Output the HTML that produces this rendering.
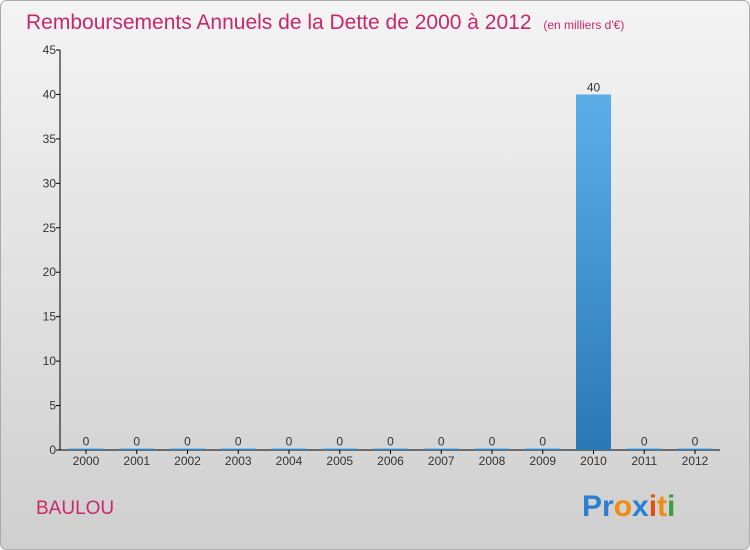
<!DOCTYPE html>
<html><head><meta charset="utf-8"><style>
body{margin:0;width:750px;height:550px;overflow:hidden}
svg{display:block;font-family:"Liberation Sans",sans-serif}
</style></head><body>
<svg width="750" height="550">
<defs>
<linearGradient id="bg" x1="0" y1="0" x2="0" y2="1"><stop offset="0" stop-color="#f4f4f4"/><stop offset="1" stop-color="#cfcfcf"/></linearGradient>
<linearGradient id="bar" x1="0" y1="0" x2="0" y2="1"><stop offset="0" stop-color="#5daee8"/><stop offset="1" stop-color="#2a78b6"/></linearGradient>
</defs>
<rect x="0.5" y="0.5" width="749" height="549" rx="6" fill="url(#bg)" stroke="#aaa"/>
<text x="26" y="29" font-size="21" fill="#c8286a">Remboursements Annuels de la Dette de 2000 à 2012 <tspan font-size="12" dx="6">(en milliers d'€)</tspan></text>
<g id="axes"></g>
<g id="bars"></g>
<text x="36" y="514" font-size="19" fill="#c8286a">BAULOU</text>
<text x="582" y="516" font-size="30" font-weight="bold"><tspan fill="#2a7fd0">Pr</tspan><tspan fill="#f08a10">o</tspan><tspan fill="#2a7fd0">x</tspan><tspan fill="#e05010">i</tspan><tspan fill="#f08a10">t</tspan><tspan fill="#3aa040">i</tspan></text>
</svg>
<script>
const categories=["2000","2001","2002","2003","2004","2005","2006","2007","2008","2009","2010","2011","2012"];
const values=[0,0,0,0,0,0,0,0,0,0,40,0,0];
const yTicks=[0,5,10,15,20,25,30,35,40,45];
const NS="http://www.w3.org/2000/svg";
const x0=60,x1=720,yBase=450,yTop=50,yMax=45;
const step=50.75,first=86,bw=35;
const y=v=>yBase-(v/yMax)*(yBase-yTop);
const xc=i=>first+i*step;
function mk(t,a,p){const e=document.createElementNS(NS,t);for(const k in a)e.setAttribute(k,a[k]);p.appendChild(e);return e;}
const ax=document.getElementById('axes'),bg=document.getElementById('bars');
let l=mk('line',{x1:x0,y1:yTop,x2:x0,y2:yBase,stroke:'#000'},ax);


l=mk('line',{x1:x0,y1:yBase,x2:x1,y2:yBase,stroke:'#000'},ax);


yTicks.forEach(t=>{
 const tk=mk('line',{x1:x0-4,y1:y(t),x2:x0,y2:y(t),stroke:'#000'},ax);
 
 
 const tx=mk('text',{x:x0-4,y:y(t)+4,'font-size':12,'text-anchor':'end',fill:'#333'},ax);
 tx.textContent=t;
 
 
});
categories.forEach((c,i)=>{
 const tk=mk('line',{x1:xc(i),y1:yBase,x2:xc(i),y2:yBase+4,stroke:'#000'},ax);
 
 
 const tx=mk('text',{x:xc(i),y:yBase+15,'font-size':12,'text-anchor':'middle',fill:'#333'},ax);
 tx.textContent=c;
 
 
 const v=values[i];
 const h=Math.max(yBase-y(v),1.5);
 const r=mk('rect',{x:xc(i)-bw/2,y:yBase-h,width:bw,height:h,fill:'url(#bar)'},bg);
 
 
 const vl=mk('text',{x:xc(i),y:yBase-h-3,'font-size':12,'text-anchor':'middle',fill:'#333'},bg);
 vl.textContent=v;
 
 
});
</script>
</body></html>
